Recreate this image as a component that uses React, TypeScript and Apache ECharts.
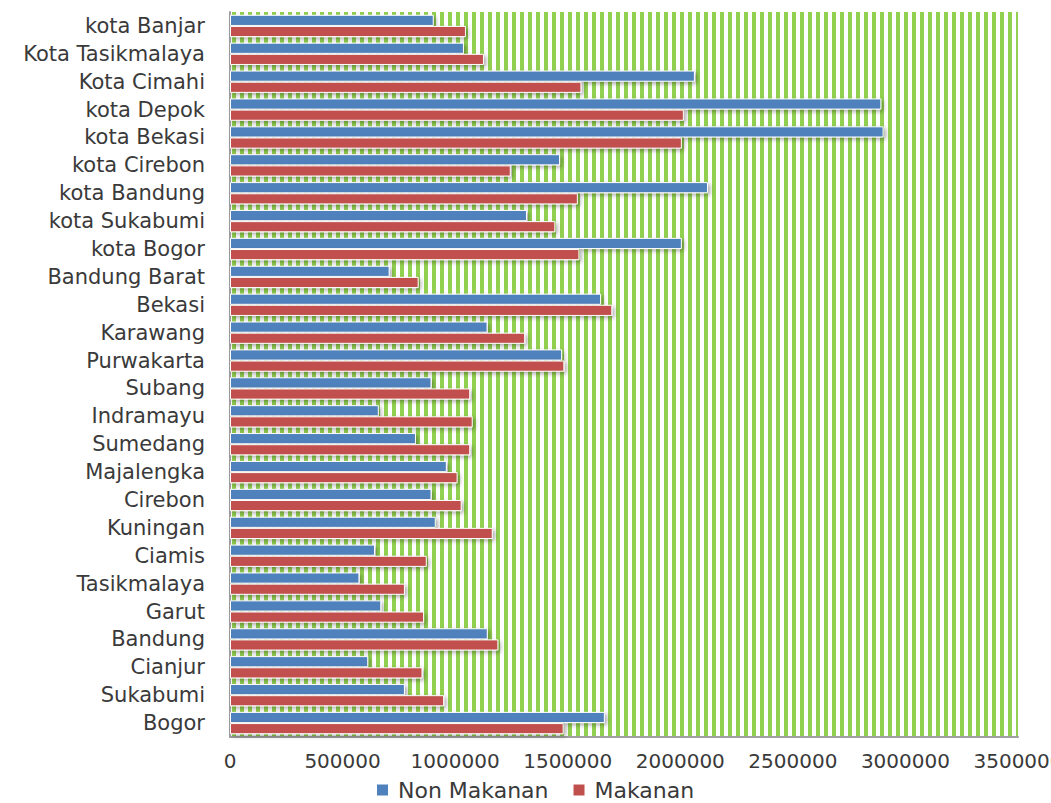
import React, { useEffect, useRef } from "react";
import * as echarts from "echarts";

const categories = [
  "Bogor", "Sukabumi", "Cianjur", "Bandung", "Garut", "Tasikmalaya", "Ciamis",
  "Kuningan", "Cirebon", "Majalengka", "Sumedang", "Indramayu", "Subang",
  "Purwakarta", "Karawang", "Bekasi", "Bandung Barat", "kota Bogor",
  "kota Sukabumi", "kota Bandung", "kota Cirebon", "kota Bekasi", "kota Depok",
  "Kota Cimahi", "Kota Tasikmalaya", "kota Banjar",
];

const nonMakanan = [
  1665000, 777000, 614000, 1145000, 672000, 575000, 644000, 914000, 895000,
  963000, 826000, 661000, 895000, 1475000, 1144000, 1648000, 709000, 2007000,
  1319000, 2123000, 1466000, 2903000, 2893000, 2065000, 1039000, 905000,
];

const makanan = [
  1482000, 951000, 855000, 1192000, 862000, 777000, 874000, 1167000, 1029000,
  1011000, 1067000, 1078000, 1067000, 1485000, 1311000, 1698000, 838000, 1552000,
  1445000, 1545000, 1247000, 2007000, 2016000, 1561000, 1128000, 1048000,
];

const seriesNames = ["Non Makanan", "Makanan"];
const xTicks = { min: 0, max: 3500000, interval: 500000 };

function makeStripes() {
  const c = document.createElement("canvas");
  c.width = 8;
  c.height = 8;
  const ctx = c.getContext("2d")!;
  ctx.fillStyle = "#ffffff";
  ctx.fillRect(0, 0, 8, 8);
  ctx.fillStyle = "#92D050";
  ctx.fillRect(0, 0, 4, 8);
  return c;
}

export default function App() {
  const ref = useRef<HTMLDivElement>(null);
  useEffect(() => {
    if (!ref.current) return;
    const chart = echarts.init(ref.current, null, { renderer: "svg" });
    const font = "DejaVu Sans";
    const barStyle = (color: string) => ({
      color,
      borderColor: "#ffffff",
      borderWidth: 1,
      shadowBlur: 4,
      shadowOffsetX: 2,
      shadowOffsetY: 2,
      shadowColor: "rgba(0,0,0,0.35)",
    });
    chart.setOption({
      animation: false,
      backgroundColor: "#ffffff",
      textStyle: { fontFamily: font },
      grid: {
        left: 230,
        right: 33,
        top: 12,
        bottom: 66,
        containLabel: false,
        outerBoundsMode: "none",
        show: true,
        borderWidth: 0,
        backgroundColor: { image: makeStripes(), repeat: "repeat" } as any,
      } as any,
      legend: {
        data: seriesNames,
        left: 370,
        top: 774,
        itemWidth: 13,
        itemHeight: 13,
        itemGap: 23,
        icon: "rect",
        textStyle: {
          fontFamily: font,
          fontSize: 22,
          color: "#3a3a3a",
          padding: [0, 0, 0, 4],
        },
      },
      xAxis: {
        type: "value",
        min: xTicks.min,
        max: xTicks.max,
        interval: xTicks.interval,
        axisLine: { show: true, lineStyle: { color: "#a0a0a0", width: 2 } },
        axisTick: { show: false },
        splitLine: { show: false },
        axisLabel: {
          formatter: (v: number) => String(v),
          fontFamily: font,
          fontSize: 20,
          color: "#3a3a3a",
          margin: 14,
          showMaxLabel: true,
          hideOverlap: false,
        },
      },
      yAxis: {
        type: "category",
        data: categories,
        axisLine: { show: true, lineStyle: { color: "#a0a0a0", width: 2 } },
        axisTick: { show: false },
        axisLabel: {
          fontFamily: font,
          fontSize: 21,
          color: "#3a3a3a",
          margin: 25,
          interval: 0,
        },
      },
      series: [
        {
          name: seriesNames[0],
          type: "bar",
          data: nonMakanan,
          barGap: "0%",
          barCategoryGap: "20%",
          itemStyle: barStyle("#4F81BD"),
        },
        {
          name: seriesNames[1],
          type: "bar",
          data: makanan,
          barGap: "0%",
          barCategoryGap: "20%",
          itemStyle: barStyle("#C0504D"),
        },
      ],
    });
    return () => chart.dispose();
  }, []);
  return (
    <div
      ref={ref}
      style={{ position: "fixed", left: 0, top: 0, width: 1051, height: 803 }}
    />
  );
}
